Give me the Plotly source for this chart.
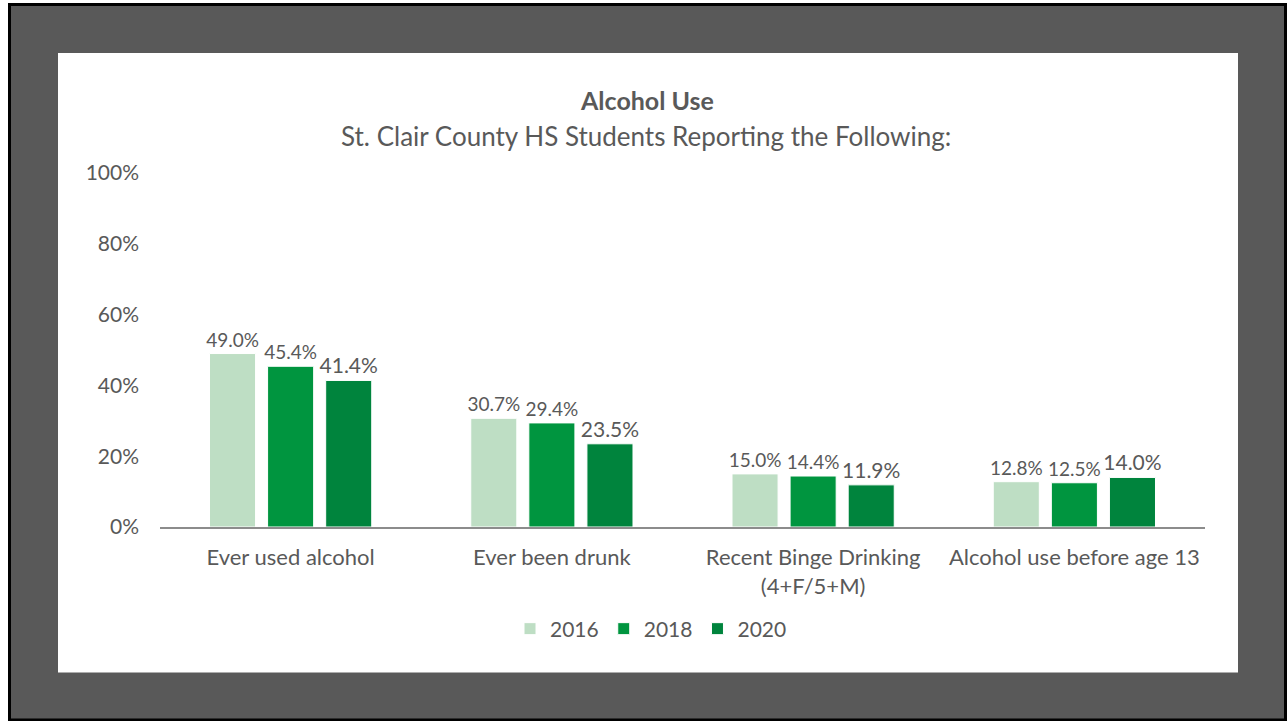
import plotly.graph_objects as go

categories = ["Ever used alcohol", "Ever been drunk", "Recent Binge Drinking<br>(4+F/5+M)", "Alcohol use before age 13"]
years = ["2016", "2018", "2020"]
values_2016 = [0.490, 0.307, 0.150, 0.128]
values_2018 = [0.454, 0.294, 0.144, 0.125]
values_2020 = [0.414, 0.235, 0.119, 0.140]
colors = ["#BEDEC4", "#00953F", "#00843D"]
label_sizes = [19, 19, 21]
y_ticks = [0, 0.2, 0.4, 0.6, 0.8, 1.0]

W, H = 1288, 721
L, R, T, B = 160, 83, 173, 194
TXT = "#595959"
FONT = "Lato, Calibri, Carlito, sans-serif"

fig = go.Figure()
for yr, vals, col, fs in zip(years, [values_2016, values_2018, values_2020], colors, label_sizes):
    fig.add_trace(go.Bar(
        name=yr, x=categories, y=vals,
        marker=dict(color=col, line=dict(color="white", width=1)),
        text=[f"{v*100:.1f}%" for v in vals], textposition="outside",
        textfont=dict(size=fs, color=TXT, family=FONT),
        constraintext="none",
        cliponaxis=False,
    ))

pw = W - L - R
ph = H - T - B
def px(x):
    return (x - L) / pw
def py(y):
    return (H - B - y) / ph

shapes = [
    dict(type="rect", xref="paper", yref="paper", x0=px(9.5), x1=px(1285.5), y0=py(720), y1=py(4.5),
         fillcolor="#595959", line=dict(color="#000000", width=3), layer="below"),
    dict(type="rect", xref="paper", yref="paper", x0=px(58), x1=px(1238), y0=py(672.5), y1=py(53),
         fillcolor="white", line=dict(width=0), layer="below"),
]

annotations = [
    dict(text="<b>Alcohol Use</b>", xref="paper", yref="paper", x=px(647), y=py(100),
         showarrow=False, font=dict(size=25, color=TXT, family=FONT), xanchor="center", yanchor="middle"),
    dict(text="St. Clair County HS Students Reporting the Following:", xref="paper", yref="paper",
         x=px(646), y=py(136), showarrow=False, font=dict(size=26, color=TXT, family=FONT),
         xanchor="center", yanchor="middle"),
]

fig.update_layout(
    width=W, height=H,
    margin=dict(l=L, r=R, t=T, b=B, pad=0),
    paper_bgcolor="white", plot_bgcolor="rgba(0,0,0,0)",
    barmode="group", bargap=0.333, bargroupgap=0.207,
    font=dict(family=FONT, color=TXT, size=20),
    shapes=shapes, annotations=annotations,
    showlegend=True,
    legend=dict(orientation="h", x=px(651), y=py(629), xanchor="center", yanchor="middle",
                font=dict(size=21, color=TXT, family=FONT), itemwidth=30, bgcolor="rgba(0,0,0,0)",
                traceorder="normal"),
    xaxis=dict(showline=True, linecolor="#8C8C8C", linewidth=1.5, ticks="", showgrid=False,
               tickfont=dict(size=22, color=TXT, family=FONT), ticklabelstandoff=10, fixedrange=True),
    yaxis=dict(range=[0, 1], tickvals=y_ticks, tickformat=".0%", showgrid=False, zeroline=False,
               showline=False, tickfont=dict(size=21, color=TXT, family=FONT), ticklabelstandoff=20,
               fixedrange=True),
)

fig.write_html("out.html", config={"displayModeBar": False},
               post_script="document.body.style.margin='0';document.body.style.overflow='hidden';")
